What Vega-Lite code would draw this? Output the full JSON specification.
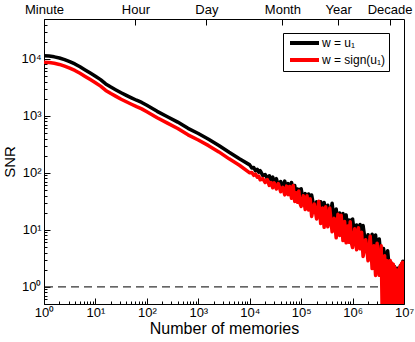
{
  "$schema": "https://vega.github.io/schema/vega-lite/v6.json",
  "width": 360,
  "height": 285,
  "autosize": "none",
  "padding": {"left": 44, "top": 19, "right": 11, "bottom": 38},
  "config": {
    "font": "Liberation Sans",
    "view": {"stroke": "black", "strokeWidth": 1},
    "axis": {"grid": false, "domain": false, "tickColor": "black", "labelColor": "black", "titleColor": "black", "titleFontWeight": "normal", "labelFlush": false, "labelOverlap": false, "labelBound": false}
  },
  "datasets": {
    "snr": [
      {"n": 1, "snr": 11350, "s": "w = u₁"}, {"n": 1.259, "snr": 11170, "s": "w = u₁"}, {"n": 1.585, "snr": 10840, "s": "w = u₁"}, {"n": 1.995, "snr": 10350, "s": "w = u₁"}, {"n": 2.512, "snr": 9660, "s": "w = u₁"}, {"n": 3.162, "snr": 8910, "s": "w = u₁"}, {"n": 3.981, "snr": 8130, "s": "w = u₁"}, {"n": 5.012, "snr": 7240, "s": "w = u₁"}, {"n": 6.31, "snr": 6380, "s": "w = u₁"}, {"n": 7.943, "snr": 5620, "s": "w = u₁"},
      {"n": 10, "snr": 4950, "s": "w = u₁"}, {"n": 12.59, "snr": 4320, "s": "w = u₁"}, {"n": 15.85, "snr": 3630, "s": "w = u₁"}, {"n": 19.95, "snr": 3200, "s": "w = u₁"}, {"n": 25.12, "snr": 2850, "s": "w = u₁"}, {"n": 31.62, "snr": 2540, "s": "w = u₁"}, {"n": 39.81, "snr": 2290, "s": "w = u₁"}, {"n": 50.12, "snr": 2070, "s": "w = u₁"}, {"n": 63.1, "snr": 1880, "s": "w = u₁"}, {"n": 79.43, "snr": 1720, "s": "w = u₁"},
      {"n": 100, "snr": 1530, "s": "w = u₁"}, {"n": 158.5, "snr": 1200, "s": "w = u₁"}, {"n": 251.2, "snr": 966, "s": "w = u₁"}, {"n": 398.1, "snr": 776, "s": "w = u₁"}, {"n": 631, "snr": 603, "s": "w = u₁"}, {"n": 1000, "snr": 490, "s": "w = u₁"}, {"n": 1585, "snr": 389, "s": "w = u₁"}, {"n": 2512, "snr": 302, "s": "w = u₁"}, {"n": 3981, "snr": 229, "s": "w = u₁"}, {"n": 6310, "snr": 176, "s": "w = u₁"},
      {"n": 10000, "snr": 138, "s": "w = u₁"}, {"n": 11000, "snr": 121.8, "s": "w = u₁"}, {"n": 12000, "snr": 123.8, "s": "w = u₁"}, {"n": 13000, "snr": 108.6, "s": "w = u₁"}, {"n": 14000, "snr": 115.7, "s": "w = u₁"}, {"n": 15000, "snr": 102.3, "s": "w = u₁"}, {"n": 16000, "snr": 109.1, "s": "w = u₁"}, {"n": 18000, "snr": 89.2, "s": "w = u₁"}, {"n": 20000, "snr": 93.6, "s": "w = u₁"}, {"n": 22000, "snr": 79.1, "s": "w = u₁"},
      {"n": 24000, "snr": 88.9, "s": "w = u₁"}, {"n": 26000, "snr": 73.8, "s": "w = u₁"}, {"n": 28000, "snr": 84.3, "s": "w = u₁"}, {"n": 30000, "snr": 69.0, "s": "w = u₁"}, {"n": 33000, "snr": 79.1, "s": "w = u₁"}, {"n": 36000, "snr": 60.3, "s": "w = u₁"}, {"n": 40000, "snr": 70.4, "s": "w = u₁"}, {"n": 44000, "snr": 55.0, "s": "w = u₁"}, {"n": 48000, "snr": 71.6, "s": "w = u₁"}, {"n": 52000, "snr": 51.5, "s": "w = u₁"},
      {"n": 56000, "snr": 64.6, "s": "w = u₁"}, {"n": 60000, "snr": 46.3, "s": "w = u₁"}, {"n": 65000, "snr": 67.9, "s": "w = u₁"}, {"n": 70000, "snr": 47.2, "s": "w = u₁"}, {"n": 75000, "snr": 60.0, "s": "w = u₁"}, {"n": 80000, "snr": 39.3, "s": "w = u₁"}, {"n": 85000, "snr": 52.1, "s": "w = u₁"}, {"n": 90000, "snr": 35.6, "s": "w = u₁"}, {"n": 95000, "snr": 51.4, "s": "w = u₁"},
      {"n": 100000, "snr": 52.5, "s": "w = u₁"}, {"n": 110000, "snr": 32.7, "s": "w = u₁"}, {"n": 120000, "snr": 43.2, "s": "w = u₁"}, {"n": 130000, "snr": 28.1, "s": "w = u₁"}, {"n": 140000, "snr": 42.7, "s": "w = u₁"}, {"n": 150000, "snr": 29.0, "s": "w = u₁"}, {"n": 160000, "snr": 40.7, "s": "w = u₁"}, {"n": 180000, "snr": 23.4, "s": "w = u₁"}, {"n": 200000, "snr": 30.9, "s": "w = u₁"}, {"n": 220000, "snr": 20.2, "s": "w = u₁"},
      {"n": 240000, "snr": 31.1, "s": "w = u₁"}, {"n": 260000, "snr": 19.8, "s": "w = u₁"}, {"n": 280000, "snr": 30.3, "s": "w = u₁"}, {"n": 300000, "snr": 18.6, "s": "w = u₁"}, {"n": 330000, "snr": 27.1, "s": "w = u₁"}, {"n": 360000, "snr": 14.9, "s": "w = u₁"}, {"n": 400000, "snr": 29.2, "s": "w = u₁"}, {"n": 440000, "snr": 13.6, "s": "w = u₁"}, {"n": 480000, "snr": 23.3, "s": "w = u₁"}, {"n": 520000, "snr": 12.7, "s": "w = u₁"},
      {"n": 560000, "snr": 19.7, "s": "w = u₁"}, {"n": 600000, "snr": 10.9, "s": "w = u₁"}, {"n": 650000, "snr": 19.3, "s": "w = u₁"}, {"n": 700000, "snr": 12.1, "s": "w = u₁"}, {"n": 750000, "snr": 18.3, "s": "w = u₁"}, {"n": 800000, "snr": 9.4, "s": "w = u₁"}, {"n": 850000, "snr": 14.9, "s": "w = u₁"}, {"n": 900000, "snr": 8.5, "s": "w = u₁"}, {"n": 950000, "snr": 14.9, "s": "w = u₁"},
      {"n": 1000000, "snr": 15.5, "s": "w = u₁"}, {"n": 1100000, "snr": 7.98, "s": "w = u₁"}, {"n": 1200000, "snr": 12.2, "s": "w = u₁"}, {"n": 1300000, "snr": 6.68, "s": "w = u₁"}, {"n": 1400000, "snr": 12.4, "s": "w = u₁"}, {"n": 1500000, "snr": 7.24, "s": "w = u₁"}, {"n": 1600000, "snr": 11.9, "s": "w = u₁"}, {"n": 1800000, "snr": 5.54, "s": "w = u₁"}, {"n": 2000000, "snr": 8.22, "s": "w = u₁"}, {"n": 2200000, "snr": 4.61, "s": "w = u₁"},
      {"n": 2400000, "snr": 8.39, "s": "w = u₁"}, {"n": 2600000, "snr": 4.52, "s": "w = u₁"}, {"n": 2800000, "snr": 8.11, "s": "w = u₁"}, {"n": 3000000, "snr": 4.17, "s": "w = u₁"}, {"n": 3300000, "snr": 6.9, "s": "w = u₁"}, {"n": 3600000, "snr": 3.02, "s": "w = u₁"}, {"n": 4000000, "snr": 4.7, "s": "w = u₁"}, {"n": 4400000, "snr": 2.47, "s": "w = u₁"}, {"n": 4800000, "snr": 4.31, "s": "w = u₁"}, {"n": 5200000, "snr": 2.08, "s": "w = u₁"},
      {"n": 5600000, "snr": 2.65, "s": "w = u₁"}, {"n": 6000000, "snr": 1.64, "s": "w = u₁"}, {"n": 6500000, "snr": 2.28, "s": "w = u₁"}, {"n": 7000000, "snr": 1.75, "s": "w = u₁"}, {"n": 7500000, "snr": 2.11, "s": "w = u₁"}, {"n": 8000000, "snr": 1.69, "s": "w = u₁"}, {"n": 8500000, "snr": 2.37, "s": "w = u₁"}, {"n": 9000000, "snr": 1.76, "s": "w = u₁"}, {"n": 9500000, "snr": 2.82, "s": "w = u₁"}, {"n": 10000000, "snr": 2.5, "s": "w = u₁"},

      {"n": 1, "snr": 8740, "s": "w = sign(u₁)"}, {"n": 1.259, "snr": 8600, "s": "w = sign(u₁)"}, {"n": 1.585, "snr": 8347, "s": "w = sign(u₁)"}, {"n": 1.995, "snr": 7970, "s": "w = sign(u₁)"}, {"n": 2.512, "snr": 7438, "s": "w = sign(u₁)"}, {"n": 3.162, "snr": 6861, "s": "w = sign(u₁)"}, {"n": 3.981, "snr": 6260, "s": "w = sign(u₁)"}, {"n": 5.012, "snr": 5575, "s": "w = sign(u₁)"}, {"n": 6.31, "snr": 4913, "s": "w = sign(u₁)"}, {"n": 7.943, "snr": 4327, "s": "w = sign(u₁)"},
      {"n": 10, "snr": 3812, "s": "w = sign(u₁)"}, {"n": 12.59, "snr": 3326, "s": "w = sign(u₁)"}, {"n": 15.85, "snr": 2795, "s": "w = sign(u₁)"}, {"n": 19.95, "snr": 2464, "s": "w = sign(u₁)"}, {"n": 25.12, "snr": 2195, "s": "w = sign(u₁)"}, {"n": 31.62, "snr": 1956, "s": "w = sign(u₁)"}, {"n": 39.81, "snr": 1763, "s": "w = sign(u₁)"}, {"n": 50.12, "snr": 1594, "s": "w = sign(u₁)"}, {"n": 63.1, "snr": 1448, "s": "w = sign(u₁)"}, {"n": 79.43, "snr": 1324, "s": "w = sign(u₁)"},
      {"n": 100, "snr": 1178, "s": "w = sign(u₁)"}, {"n": 158.5, "snr": 924, "s": "w = sign(u₁)"}, {"n": 251.2, "snr": 744, "s": "w = sign(u₁)"}, {"n": 398.1, "snr": 598, "s": "w = sign(u₁)"}, {"n": 631, "snr": 464, "s": "w = sign(u₁)"}, {"n": 1000, "snr": 377, "s": "w = sign(u₁)"}, {"n": 1585, "snr": 300, "s": "w = sign(u₁)"}, {"n": 2512, "snr": 233, "s": "w = sign(u₁)"}, {"n": 3981, "snr": 176, "s": "w = sign(u₁)"}, {"n": 6310, "snr": 136, "s": "w = sign(u₁)"},
      {"n": 10000, "snr": 100, "s": "w = sign(u₁)"}, {"n": 11000, "snr": 101.6, "s": "w = sign(u₁)"}, {"n": 12000, "snr": 90.2, "s": "w = sign(u₁)"}, {"n": 13000, "snr": 95.3, "s": "w = sign(u₁)"}, {"n": 14000, "snr": 83.6, "s": "w = sign(u₁)"}, {"n": 15000, "snr": 88.0, "s": "w = sign(u₁)"}, {"n": 16000, "snr": 75.5, "s": "w = sign(u₁)"}, {"n": 18000, "snr": 79.4, "s": "w = sign(u₁)"}, {"n": 20000, "snr": 67.6, "s": "w = sign(u₁)"}, {"n": 22000, "snr": 75.9, "s": "w = sign(u₁)"},
      {"n": 24000, "snr": 60.3, "s": "w = sign(u₁)"}, {"n": 26000, "snr": 67.7, "s": "w = sign(u₁)"}, {"n": 28000, "snr": 54.6, "s": "w = sign(u₁)"}, {"n": 30000, "snr": 66.6, "s": "w = sign(u₁)"}, {"n": 33000, "snr": 52.0, "s": "w = sign(u₁)"}, {"n": 36000, "snr": 64.9, "s": "w = sign(u₁)"}, {"n": 40000, "snr": 46.6, "s": "w = sign(u₁)"}, {"n": 44000, "snr": 55.6, "s": "w = sign(u₁)"}, {"n": 48000, "snr": 41.0, "s": "w = sign(u₁)"}, {"n": 52000, "snr": 58.5, "s": "w = sign(u₁)"},
      {"n": 56000, "snr": 41.5, "s": "w = sign(u₁)"}, {"n": 60000, "snr": 57.8, "s": "w = sign(u₁)"}, {"n": 65000, "snr": 35.8, "s": "w = sign(u₁)"}, {"n": 70000, "snr": 59.8, "s": "w = sign(u₁)"}, {"n": 75000, "snr": 31.5, "s": "w = sign(u₁)"}, {"n": 80000, "snr": 44.6, "s": "w = sign(u₁)"}, {"n": 85000, "snr": 30.4, "s": "w = sign(u₁)"}, {"n": 90000, "snr": 48.0, "s": "w = sign(u₁)"}, {"n": 95000, "snr": 29.0, "s": "w = sign(u₁)"},
      {"n": 100000, "snr": 25.7, "s": "w = sign(u₁)"}, {"n": 110000, "snr": 39.6, "s": "w = sign(u₁)"}, {"n": 120000, "snr": 22.8, "s": "w = sign(u₁)"}, {"n": 130000, "snr": 39.6, "s": "w = sign(u₁)"}, {"n": 140000, "snr": 22.2, "s": "w = sign(u₁)"}, {"n": 150000, "snr": 35.0, "s": "w = sign(u₁)"}, {"n": 160000, "snr": 17.2, "s": "w = sign(u₁)"}, {"n": 180000, "snr": 28.4, "s": "w = sign(u₁)"}, {"n": 200000, "snr": 15.5, "s": "w = sign(u₁)"}, {"n": 220000, "snr": 31.6, "s": "w = sign(u₁)"},
      {"n": 240000, "snr": 12.9, "s": "w = sign(u₁)"}, {"n": 260000, "snr": 24.1, "s": "w = sign(u₁)"}, {"n": 280000, "snr": 11.1, "s": "w = sign(u₁)"}, {"n": 300000, "snr": 25.4, "s": "w = sign(u₁)"}, {"n": 330000, "snr": 11.3, "s": "w = sign(u₁)"}, {"n": 360000, "snr": 24.1, "s": "w = sign(u₁)"}, {"n": 400000, "snr": 9.25, "s": "w = sign(u₁)"}, {"n": 440000, "snr": 15.9, "s": "w = sign(u₁)"}, {"n": 480000, "snr": 7.24, "s": "w = sign(u₁)"}, {"n": 520000, "snr": 18.7, "s": "w = sign(u₁)"},
      {"n": 560000, "snr": 7.98, "s": "w = sign(u₁)"}, {"n": 600000, "snr": 18.0, "s": "w = sign(u₁)"}, {"n": 650000, "snr": 6.49, "s": "w = sign(u₁)"}, {"n": 700000, "snr": 14.0, "s": "w = sign(u₁)"}, {"n": 750000, "snr": 5.92, "s": "w = sign(u₁)"}, {"n": 800000, "snr": 11.7, "s": "w = sign(u₁)"}, {"n": 850000, "snr": 6.05, "s": "w = sign(u₁)"}, {"n": 900000, "snr": 13.8, "s": "w = sign(u₁)"}, {"n": 950000, "snr": 5.86, "s": "w = sign(u₁)"},
      {"n": 1000000, "snr": 4.9, "s": "w = sign(u₁)"}, {"n": 1100000, "snr": 10.5, "s": "w = sign(u₁)"}, {"n": 1200000, "snr": 4.48, "s": "w = sign(u₁)"}, {"n": 1300000, "snr": 10.9, "s": "w = sign(u₁)"}, {"n": 1400000, "snr": 4.64, "s": "w = sign(u₁)"}, {"n": 1500000, "snr": 9.04, "s": "w = sign(u₁)"}, {"n": 1600000, "snr": 3.42, "s": "w = sign(u₁)"}, {"n": 1800000, "snr": 6.73, "s": "w = sign(u₁)"}, {"n": 2000000, "snr": 2.86, "s": "w = sign(u₁)"}, {"n": 2200000, "snr": 7.74, "s": "w = sign(u₁)"},
      {"n": 2400000, "snr": 2.09, "s": "w = sign(u₁)"}, {"n": 2600000, "snr": 5.26, "s": "w = sign(u₁)"}, {"n": 2800000, "snr": 1.58, "s": "w = sign(u₁)"}, {"n": 3000000, "snr": 5.82, "s": "w = sign(u₁)"}, {"n": 3300000, "snr": 1.59, "s": "w = sign(u₁)"}, {"n": 3600000, "snr": 5.25, "s": "w = sign(u₁)"}, {"n": 4000000, "snr": 0.01, "s": "w = sign(u₁)"}, {"n": 4200000, "snr": 3.5, "s": "w = sign(u₁)"}, {"n": 4400000, "snr": 0.01, "s": "w = sign(u₁)"}, {"n": 4600000, "snr": 2.9, "s": "w = sign(u₁)"},
      {"n": 4800000, "snr": 0.01, "s": "w = sign(u₁)"}, {"n": 5000000, "snr": 2.8, "s": "w = sign(u₁)"}, {"n": 5200000, "snr": 0.01, "s": "w = sign(u₁)"}, {"n": 5400000, "snr": 2.9, "s": "w = sign(u₁)"}, {"n": 5600000, "snr": 0.01, "s": "w = sign(u₁)"}, {"n": 5800000, "snr": 2.6, "s": "w = sign(u₁)"}, {"n": 6000000, "snr": 0.01, "s": "w = sign(u₁)"}, {"n": 6200000, "snr": 2.5, "s": "w = sign(u₁)"}, {"n": 6400000, "snr": 0.01, "s": "w = sign(u₁)"}, {"n": 6600000, "snr": 2.2, "s": "w = sign(u₁)"},
      {"n": 6800000, "snr": 0.01, "s": "w = sign(u₁)"}, {"n": 7000000, "snr": 2.0, "s": "w = sign(u₁)"}, {"n": 7200000, "snr": 0.01, "s": "w = sign(u₁)"}, {"n": 7400000, "snr": 1.95, "s": "w = sign(u₁)"}, {"n": 7600000, "snr": 0.01, "s": "w = sign(u₁)"}, {"n": 7800000, "snr": 2.0, "s": "w = sign(u₁)"}, {"n": 8000000, "snr": 0.01, "s": "w = sign(u₁)"}, {"n": 8200000, "snr": 2.2, "s": "w = sign(u₁)"}, {"n": 8400000, "snr": 0.01, "s": "w = sign(u₁)"}, {"n": 8600000, "snr": 2.4, "s": "w = sign(u₁)"},
      {"n": 8800000, "snr": 0.01, "s": "w = sign(u₁)"}, {"n": 9000000, "snr": 2.6, "s": "w = sign(u₁)"}, {"n": 9200000, "snr": 0.01, "s": "w = sign(u₁)"}, {"n": 9400000, "snr": 2.7, "s": "w = sign(u₁)"}, {"n": 9600000, "snr": 0.01, "s": "w = sign(u₁)"}, {"n": 9800000, "snr": 2.6, "s": "w = sign(u₁)"}, {"n": 10000000, "snr": 2.5, "s": "w = sign(u₁)"}
    ],
    "ref": [{"level": 1}],
    "anchor": [{"t": 1}]
  },
  "layer": [
    {
      "data": {"name": "ref"},
      "mark": {"type": "rule", "stroke": "#333333", "strokeWidth": 1.2, "strokeDash": [8, 5]},
      "encoding": {
        "y": {"field": "level", "type": "quantitative",
          "scale": {"type": "log", "domain": [0.5, 50000], "nice": false, "zero": false},
          "axis": {"orient": "left", "values": [0.5, 0.6, 0.7, 0.8, 0.9, 2, 3, 4, 5, 6, 7, 8, 9, 20, 30, 40, 50, 60, 70, 80, 90, 200, 300, 400, 500, 600, 700, 800, 900, 2000, 3000, 4000, 5000, 6000, 7000, 8000, 9000, 20000, 30000, 40000, 50000], "labels": false, "tickSize": -3, "title": null}}
      }
    },
    {
      "data": {"name": "snr"},
      "transform": [{"filter": {"field": "s", "equal": "w = u₁"}}],
      "mark": {"type": "line", "strokeWidth": 3.5, "strokeJoin": "round", "clip": true},
      "encoding": {
        "x": {"field": "n", "type": "quantitative",
          "scale": {"type": "log", "domain": [1, 10000000], "nice": false, "zero": false},
          "axis": {"orient": "bottom", "values": [1, 10, 100, 1000, 10000, 100000, 1000000, 10000000],
            "labelExpr": "'10' + ['⁰','¹','²','³','⁴','⁵','⁶','⁷'][round(log(datum.value)/LN10)]",
            "tickSize": -6, "labelPadding": 8, "labelFontSize": 13, "title": "Number of memories", "titleFontSize": 16, "titlePadding": 1}},
        "y": {"field": "snr", "type": "quantitative",
          "scale": {"type": "log", "domain": [0.5, 50000], "nice": false, "zero": false},
          "axis": {"orient": "left", "values": [1, 10, 100, 1000, 10000],
            "labelExpr": "'10' + ['⁰','¹','²','³','⁴','⁵','⁶','⁷'][round(log(datum.value)/LN10)]",
            "tickSize": -6, "labelPadding": 9, "labelFontSize": 13, "title": "SNR", "titleFontSize": 15, "titlePadding": 3}},
        "color": {"field": "s", "type": "nominal",
          "scale": {"domain": ["w = u₁", "w = sign(u₁)"], "range": ["black", "#ff0000"]},
          "legend": {"orient": "none", "legendX": 239, "legendY": 14, "title": null, "symbolType": "M-0.6,0H5.2", "symbolStrokeWidth": 4, "symbolSize": 100, "labelFontSize": 12, "labelColor": "black", "strokeColor": "black", "fillColor": "white", "padding": 3, "rowPadding": 1, "labelOffset": 22}}
      }
    },
    {
      "data": {"name": "snr"},
      "transform": [{"filter": {"field": "s", "equal": "w = sign(u₁)"}}],
      "mark": {"type": "line", "strokeWidth": 3.5, "strokeJoin": "round", "clip": true},
      "encoding": {
        "x": {"field": "n", "type": "quantitative", "axis": null},
        "y": {"field": "snr", "type": "quantitative", "axis": null},
        "color": {"field": "s", "type": "nominal"}
      }
    },
    {
      "data": {"name": "anchor"},
      "mark": {"type": "point", "opacity": 0},
      "encoding": {
        "x": {"field": "t", "type": "quantitative",
          "axis": {"orient": "top", "values": [1, 60, 1440, 43200, 525600, 5256000],
            "labelExpr": "['Minute','Hour','Day','Month','Year','Decade'][indexof([1,60,1440,43200,525600,5256000], datum.value)]",
            "tickSize": -6, "labelPadding": 9, "labelFontSize": 13, "title": null}}
      }
    },
    {
      "data": {"name": "anchor"},
      "mark": {"type": "point", "opacity": 0},
      "encoding": {
        "x": {"field": "t", "type": "quantitative",
          "axis": {"orient": "bottom", "values": [2, 3, 4, 5, 6, 7, 8, 9, 20, 30, 40, 50, 60, 70, 80, 90, 200, 300, 400, 500, 600, 700, 800, 900, 2000, 3000, 4000, 5000, 6000, 7000, 8000, 9000, 20000, 30000, 40000, 50000, 60000, 70000, 80000, 90000, 200000, 300000, 400000, 500000, 600000, 700000, 800000, 900000, 2000000, 3000000, 4000000, 5000000, 6000000, 7000000, 8000000, 9000000],
            "labels": false, "tickSize": -3, "title": null}}
      }
    }
  ],
  "resolve": {"axis": {"x": "independent", "y": "independent"}}
}
